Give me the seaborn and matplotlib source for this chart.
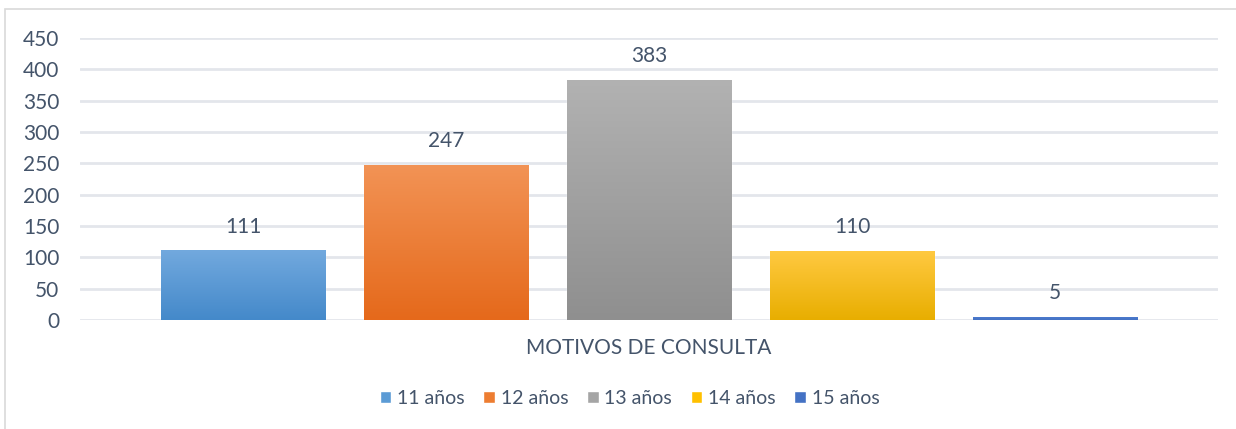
import numpy as np
import pandas as pd
import matplotlib
matplotlib.use('Agg')
import matplotlib.pyplot as plt
import seaborn as sns
from matplotlib.colors import LinearSegmentedColormap
from matplotlib.patches import Rectangle

# data
category = ['MOTIVOS DE CONSULTA']
edades = ['11 años', '12 años', '13 años', '14 años', '15 años']
valores = [111, 247, 383, 110, 5]

# gradient colours (top, bottom) per series, Excel style
top_cols = ['#72A9DE', '#F29355', '#B2B2B2', '#FFC941', '#4E7DD0']
bot_cols = ['#4489CA', '#E5691B', '#8F8F8F', '#E8AE00', '#4472C4']
mid_cols = ['#5B9BD5', '#ED7D31', '#A5A5A5', '#FFC000', '#4472C4']

text_col = '#44546A'
grid_col = '#E3E6EB'

df = pd.DataFrame({'cat': category * len(edades), 'edad': edades, 'valor': valores})

sns.set_style('white')
plt.rcParams['font.family'] = ['Lato', 'DejaVu Sans']

fig = plt.figure(figsize=(12.36, 4.29), dpi=100)
ax = fig.add_axes([80 / 1236, 109 / 429, 1138 / 1236, 282 / 429])

sns.barplot(data=df, x='cat', y='valor', hue='edad', palette=mid_cols,
            width=0.892, gap=0.19, ax=ax, legend=True, saturation=1)

ax.set_xlim(-0.5, 0.5)
ax.set_ylim(0, 450)
ax.set_yticks(np.arange(0, 451, 50))
ax.yaxis.grid(True, color=grid_col, linewidth=2)
ax.set_axisbelow(True)
for s in ax.spines.values():
    s.set_visible(False)

# gradient overlay on each bar
for i, bar in enumerate(ax.patches[:len(edades)]):
    x0, y0 = bar.get_x(), bar.get_y()
    w, h = bar.get_width(), bar.get_height()
    cmap = LinearSegmentedColormap.from_list('g', [bot_cols[i], top_cols[i]])
    grad = np.linspace(0, 1, 256).reshape(-1, 1)
    img = ax.imshow(grad, cmap=cmap, origin='lower', aspect='auto',
                    extent=[x0, x0 + w, y0, y0 + h], zorder=bar.get_zorder() + 0.1)
    img.set_clip_path(bar)
ax.set_xlim(-0.5, 0.5)
ax.set_ylim(0, 450)

for cont in ax.containers:
    ax.bar_label(cont, padding=10, fontsize=15, color=text_col)

ax.tick_params(axis='y', labelsize=15, labelcolor=text_col, length=0, pad=15)
ax.tick_params(axis='x', labelsize=15, labelcolor=text_col, length=0, pad=13)
ax.set_xlabel('')
ax.set_ylabel('')

leg = ax.legend(loc='upper center', bbox_to_anchor=(0.483, -0.185), ncol=5,
                frameon=False, fontsize=14, handlelength=0.6, handleheight=0.6,
                handletextpad=0.3, columnspacing=0.95)
for t in leg.get_texts():
    t.set_color(text_col)

# chart area border (top and left visible)
fig.patches.append(Rectangle((5 / 1236, -0.1), 1.2, (429 - 9) / 429 + 0.1,
                             transform=fig.transFigure, fill=False,
                             edgecolor='#D9D9D9', linewidth=1.2))

fig.savefig('out.png', dpi=100)
